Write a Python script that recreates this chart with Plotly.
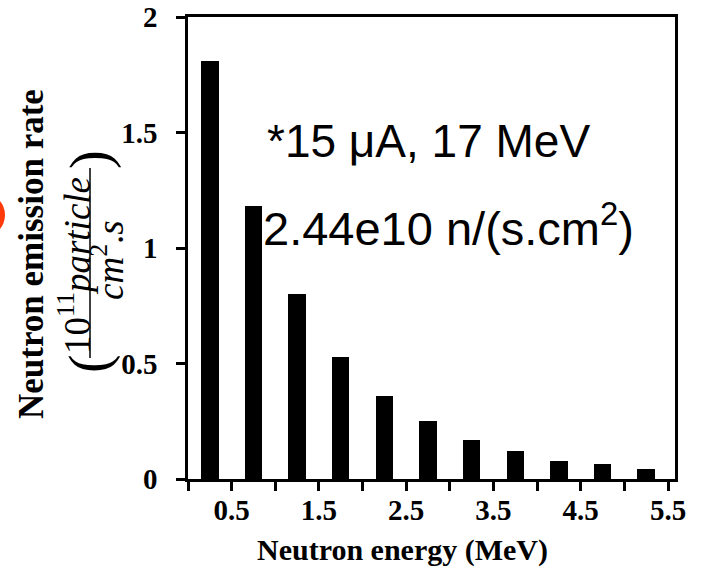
import plotly.graph_objects as go

# ---- data ----
energies = [0.25, 0.75, 1.25, 1.75, 2.25, 2.75, 3.25, 3.75, 4.25, 4.75, 5.25]
emission_rate = [1.81, 1.18, 0.80, 0.53, 0.36, 0.25, 0.17, 0.12, 0.08, 0.064, 0.043]
x_tickvals = [0, 0.5, 1, 1.5, 2, 2.5, 3, 3.5, 4, 4.5, 5, 5.5]
x_ticktext = ["", "0.5", "", "1.5", "", "2.5", "", "3.5", "", "4.5", "", "5.5"]
y_tickvals = [0, 0.5, 1, 1.5, 2]
y_ticktext = ["0", "0.5", "1", "1.5", "2"]

W, H = 703, 570
ML, MT = 188, 17
MR = W - 675
MB = H - 479
PW, PH = W - ML - MR, H - MT - MB


def px(xw):
    return (xw - ML) / PW


def py(yw):
    return (H - MB - yw) / PH


serif = "Liberation Serif"
sans = "Liberation Sans"

fig = go.Figure(go.Bar(x=energies, y=emission_rate, width=0.2,
                       marker=dict(color="black", line=dict(width=0))))

axis_common = dict(showline=True, linecolor="black", linewidth=2.5, mirror=True,
                   ticks="outside", ticklen=9, tickwidth=2.5, tickcolor="black",
                   showgrid=False, zeroline=False, automargin=False,
                   ticklabeloverflow="allow",
                   tickfont=dict(family=serif, size=29, color="black", weight="bold"))

fig.update_xaxes(range=[0, 5.58], tickmode="array", tickvals=x_tickvals,
                 ticktext=x_ticktext, ticklabelstandoff=-6, **axis_common)
fig.update_yaxes(range=[0, 2], tickmode="array", tickvals=y_tickvals,
                 ticktext=y_ticktext, ticklabelstandoff=13, **axis_common)

ann = []
# axis titles
ann.append(dict(text="Neutron energy (MeV)", x=px(402), y=py(550), xref="paper", yref="paper",
                showarrow=False, xanchor="center", yanchor="middle",
                font=dict(family=serif, size=30, color="black", weight="bold")))
ann.append(dict(text="Neutron emission rate", x=px(31), y=py(254), xref="paper", yref="paper",
                showarrow=False, textangle=-90, xanchor="center", yanchor="middle",
                font=dict(family=serif, size=35, color="black", weight="bold")))
# fraction unit
ann.append(dict(text="10<sup>11</sup><i>particle</i>", x=px(74), y=py(266), xref="paper", yref="paper",
                showarrow=False, textangle=-90, xanchor="center", yanchor="middle",
                font=dict(family=serif, size=37, color="black")))
ann.append(dict(text="<i>cm</i><sup>2</sup>.<i>s</i>", x=px(107), y=py(260), xref="paper", yref="paper",
                showarrow=False, textangle=-90, xanchor="center", yanchor="middle",
                font=dict(family=serif, size=37, color="black")))
ann.append(dict(text="(", x=px(90), y=py(364), xref="paper", yref="paper",
                showarrow=False, textangle=-90, xanchor="center", yanchor="middle",
                font=dict(family=serif, size=56, color="black")))
ann.append(dict(text=")", x=px(90), y=py(160), xref="paper", yref="paper",
                showarrow=False, textangle=-90, xanchor="center", yanchor="middle",
                font=dict(family=serif, size=56, color="black")))
# in-plot notes
ann.append(dict(text="*15 \u03bcA, 17 MeV", x=px(265), y=py(141), xref="paper", yref="paper",
                showarrow=False, xanchor="left", yanchor="middle",
                font=dict(family=sans, size=46, color="black")))
ann.append(dict(text="2.44e10 n/(s.cm<sup>2</sup>)", x=px(261), y=py(225), xref="paper", yref="paper",
                showarrow=False, xanchor="left", yanchor="middle",
                font=dict(family=sans, size=47, color="black")))

shapes = [
    dict(type="line", xref="paper", yref="paper", x0=px(90), x1=px(90), y0=py(168), y1=py(358),
         line=dict(color="black", width=1.5)),
    dict(type="circle", xref="paper", yref="paper", x0=px(-39), x1=px(5), y0=py(237), y1=py(193),
         fillcolor="#ff3a0a", line=dict(width=0)),
]

fig.update_layout(width=W, height=H, margin=dict(l=ML, r=MR, t=MT, b=MB, autoexpand=False),
                  paper_bgcolor="white", plot_bgcolor="white", showlegend=False,
                  annotations=ann, shapes=shapes, bargap=0)

fig.write_html("out.html", config={"displayModeBar": False},
               post_script="document.body.style.margin='0';document.body.style.overflow='hidden';")
